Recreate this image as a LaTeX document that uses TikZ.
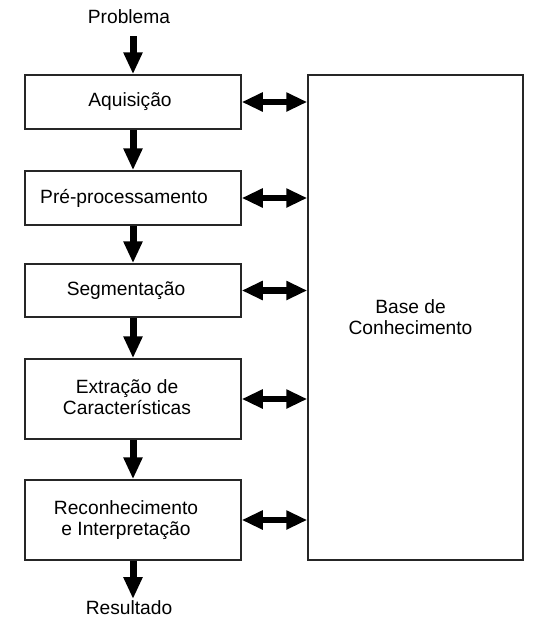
\documentclass[tikz,border=0pt]{standalone}
\usepackage{fontspec}
\setmainfont{Liberation Sans}
\usetikzlibrary{arrows.meta}
\begin{document}
\begin{tikzpicture}[x=1pt,y=-1pt,
  box/.style={draw=black!85, line width=1.5pt, minimum width=216pt, inner sep=0pt},
  lbl/.style={inner sep=0pt, align=center, font=\fontsize{19.2}{21}\selectfont},
  varr/.style={line width=7pt, -{Triangle[width=18pt,length=22pt]}},
  darr/.style={line width=6.5pt, {Triangle[width=18pt,length=21pt]}-{Triangle[width=18pt,length=21pt]}}]
\useasboundingbox (0,0) rectangle (544,622);
\node[lbl] (prob) at (129,17) {Problema};
\node[box, minimum height=54pt] (a) at (133,102) {};
\node[box, minimum height=54pt] (b) at (133,198) {};
\node[box, minimum height=53pt] (c) at (133,290.5) {};
\node[box, minimum height=80pt] (d) at (133,399) {};
\node[box, minimum height=80pt] (e) at (133,520) {};
\node[box, minimum width=215pt, minimum height=485pt] (kb) at (415.5,317.5) {};
\node[lbl] (at) at ([xshift=-3pt]a.center) {Aquisição};
\node[lbl] (bt) at ([xshift=-9pt]b.center) {Pré-processamento};
\node[lbl] (ct) at ([xshift=-7pt]c.center) {Segmentação};
\node[lbl] (dt) at ([xshift=-6pt,yshift=2pt]d.center) {Extração de\\Características};
\node[lbl] (et) at ([xshift=-7pt]e.center) {Reconhecimento\\e Interpretação};
\node[lbl] (kt) at ([xshift=-5pt]kb.center) {Base de\\Conhecimento};
\node[lbl] (res) at (129,608) {Resultado};
\draw[varr] (133,36) -- (a.north);
\draw[varr] (a) -- (b);
\draw[varr] (b) -- (c);
\draw[varr] (c) -- (d);
\draw[varr] (d) -- (e);
\draw[varr] (e.south) -- (133,599);
\foreach \n in {a,b,c,d,e}
  \draw[darr] (\n.east) -- (\n.east -| kb.west);
\end{tikzpicture}
\end{document}
